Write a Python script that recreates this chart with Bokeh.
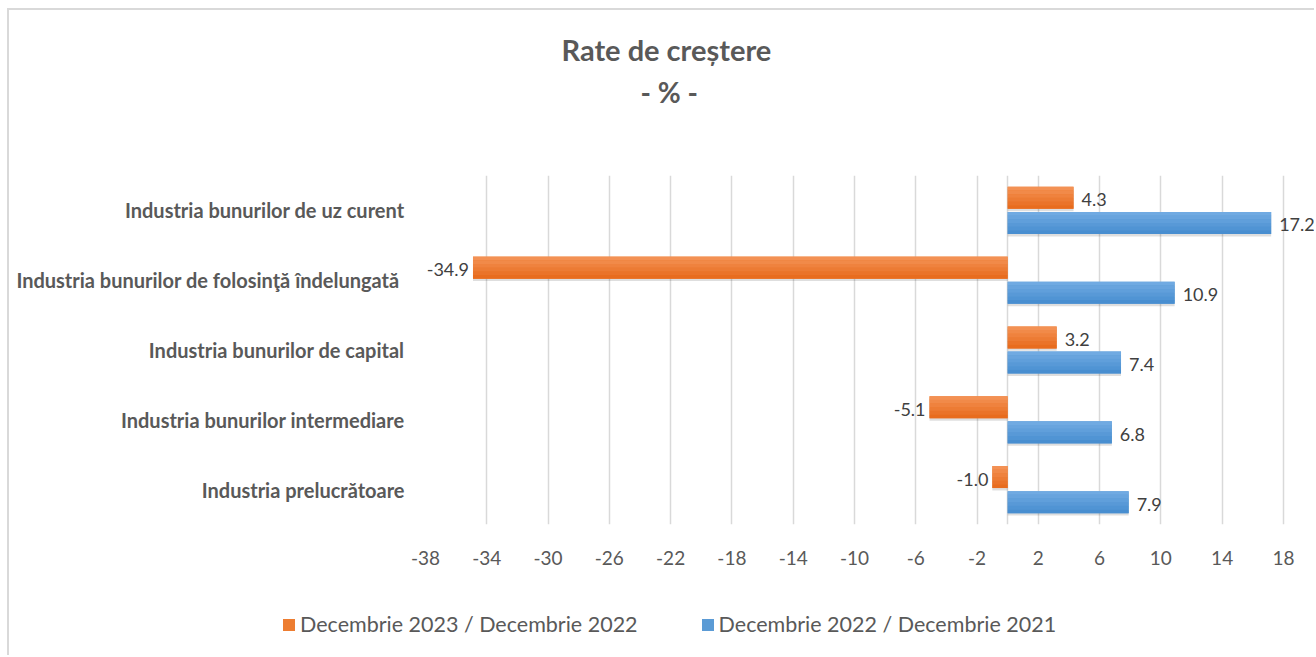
from bokeh.plotting import figure
from bokeh.models import (ColumnDataSource, FactorRange, Range1d, FixedTicker, Title,
                          Legend, LegendItem)
from bokeh.transform import dodge
from bokeh.core.properties import value
from bokeh.embed import file_html
from bokeh.resources import INLINE

# ---------------- data ----------------
categories = [
    "Industria prelucrătoare",
    "Industria bunurilor intermediare",
    "Industria bunurilor de capital",
    "Industria bunurilor de folosinţă  îndelungată",
    "Industria bunurilor de uz curent",
]
series_2023 = [-1.0, -5.1, 3.2, -34.9, 4.3]   # Decembrie 2023 / Decembrie 2022
series_2022 = [7.9, 6.8, 7.4, 10.9, 17.2]     # Decembrie 2022 / Decembrie 2021
label_2023 = "Decembrie 2023 / Decembrie 2022"
label_2022 = "Decembrie 2022 / Decembrie 2021"
x_ticks = list(range(-38, 19, 4))
title_text = "Rate de creștere"
subtitle_text = "- % -"

# ---------------- style ----------------
FONT = "Lato"
GREY = "#595959"
ORANGE, ORANGE_TOP, ORANGE_BOT = "#ED7D31", (243, 145, 84), (232, 108, 30)
BLUE, BLUE_TOP, BLUE_BOT = "#5B9BD5", (112, 170, 226), (72, 142, 208)
BAR_H = 0.315
OFF = 0.18

p = figure(width=1307, height=580, output_backend="svg", toolbar_location=None,
           y_range=FactorRange(*categories), x_range=Range1d(-38, 20.16))
p.min_border_left = 416
p.min_border_right = 0
p.min_border_top = 165
p.min_border_bottom = 66
p.outline_line_color = None
p.background_fill_color = "white"
p.border_fill_color = "white"
p.styles = {"margin-left": "7px", "margin-top": "8px",
            "border-left": "2px solid #d9d9d9", "border-top": "2px solid #d9d9d9"}

# grid
p.ygrid.grid_line_color = None
p.xgrid.ticker = FixedTicker(ticks=x_ticks + [0])
p.xgrid.grid_line_color = "#d9d9d9"
p.xgrid.grid_line_width = 1.5

# axes
p.xaxis.ticker = FixedTicker(ticks=x_ticks)
p.xaxis.major_label_overrides = {t: "%d" % t for t in x_ticks}
p.xaxis.axis_line_color = None
p.xaxis.major_tick_line_color = None
p.xaxis.minor_tick_line_color = None
p.xaxis.major_label_text_font = FONT
p.xaxis.major_label_text_font_size = "19px"
p.xaxis.major_label_text_color = GREY
p.xaxis.major_label_standoff = 20

p.yaxis.axis_line_color = None
p.yaxis.major_tick_line_color = None
p.yaxis.major_label_text_font = FONT
p.yaxis.major_label_text_font_style = "bold"
p.yaxis.major_label_text_font_size = "20px"
p.yaxis.major_label_text_color = GREY
p.yaxis.major_label_standoff = 15

src = ColumnDataSource(dict(cat=categories, s23=series_2023, s22=series_2022))

def bars(col, off, color, top, bot):
    # soft shadow
    p.hbar(y=dodge("cat", off - 0.035, range=p.y_range), left=0, right=col, height=BAR_H,
           source=src, fill_color="black", fill_alpha=0.13, line_color=None)
    p.hbar(y=dodge("cat", off, range=p.y_range), left=0, right=col, height=BAR_H,
           source=src, fill_color=color, line_color=None)
    n = 6
    for i in range(n):
        t = i / (n - 1)
        c = tuple(int(round(top[k] + (bot[k] - top[k]) * t)) for k in range(3))
        band_off = off + BAR_H / 2 - BAR_H / n * (i + 0.5)
        p.hbar(y=dodge("cat", band_off, range=p.y_range), left=0, right=col,
               height=BAR_H / n * 1.02, source=src,
               fill_color="#%02x%02x%02x" % c, line_color=None)

bars("s23", OFF, ORANGE, ORANGE_TOP, ORANGE_BOT)
bars("s22", -OFF, BLUE, BLUE_TOP, BLUE_BOT)

# data labels
def labels(vals, off):
    pos = dict(cat=[c for c, v in zip(categories, vals) if v >= 0],
               v=[v for v in vals if v >= 0],
               t=["%.1f" % v for v in vals if v >= 0])
    neg = dict(cat=[c for c, v in zip(categories, vals) if v < 0],
               v=[v for v in vals if v < 0],
               t=["%.1f" % v for v in vals if v < 0])
    for d, align, xo in ((pos, "left", 8), (neg, "right", -4)):
        s = ColumnDataSource(d)
        p.text(x="v", y=dodge("cat", off, range=p.y_range), text="t", source=s,
               text_align=align, text_baseline="middle", x_offset=xo, y_offset=2,
               text_font=value(FONT), text_font_size="18px", text_color="#404040")

labels(series_2023, OFF)
labels(series_2022, -OFF)

# titles: first added sits closest to the plot frame
p.add_layout(Title(text=" ", text_font_size="1px", standoff=60), "above")
p.add_layout(Title(text=subtitle_text, align="left", offset=215, text_font=FONT,
                   text_font_style="bold", text_font_size="28px", text_color=GREY,
                   standoff=8), "above")
p.add_layout(Title(text=title_text, align="left", offset=136, text_font=FONT,
                   text_font_style="bold", text_font_size="29px", text_color=GREY,
                   standoff=4), "above")

# ---------------- legend strip (separate root, so it is not frame-aligned) ----------------
q = figure(width=1307, height=67, output_backend="svg", toolbar_location=None,
           x_range=Range1d(0, 1), y_range=Range1d(0, 1),
           x_axis_location=None, y_axis_location=None, min_border=0)
q.outline_line_color = None
q.grid.visible = False
q.border_fill_color = "white"
q.background_fill_color = "white"
q.styles = {"margin-left": "7px", "border-left": "2px solid #d9d9d9"}
qsrc = ColumnDataSource(dict(s23=series_2023, s22=series_2022))
# zero-size proxies: they carry the series but draw nothing, only the legend swatches
l23 = q.hbar(y="s23", left=0, right=0, height=0, source=qsrc,
             fill_color=ORANGE, line_color=None)
l22 = q.hbar(y="s22", left=0, right=0, height=0, source=qsrc,
             fill_color=BLUE, line_color=None)
legend = Legend(items=[LegendItem(label=label_2023, renderers=[l23]),
                       LegendItem(label=label_2022, renderers=[l22])],
                orientation="horizontal", location=(272, 18),
                glyph_width=15, glyph_height=15, label_standoff=4, spacing=62,
                padding=0, margin=0, border_line_color=None, background_fill_alpha=0,
                label_text_font=FONT, label_text_font_size="21.5px",
                label_text_color=GREY)
q.add_layout(legend, "center")

open("out.html", "w").write(file_html([p, q], INLINE))
